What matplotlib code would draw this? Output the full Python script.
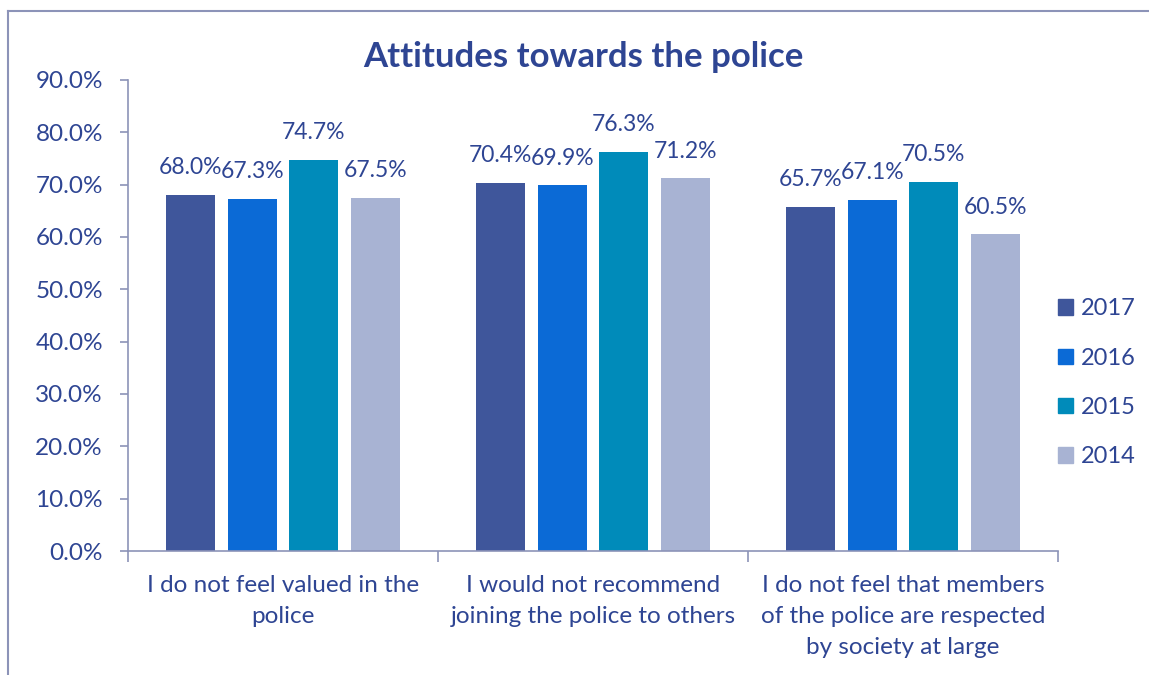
import matplotlib.pyplot as plt
import numpy as np
from matplotlib.lines import Line2D
from matplotlib.ticker import FuncFormatter

categories = ['I do not feel valued in the\npolice',
              'I would not recommend\njoining the police to others',
              'I do not feel that members\nof the police are respected\nby society at large']
years = ['2017', '2016', '2015', '2014']
values_2017 = [68.0, 70.4, 65.7]
values_2016 = [67.3, 69.9, 67.1]
values_2015 = [74.7, 76.3, 70.5]
values_2014 = [67.5, 71.2, 60.5]
y_ticks = [0, 10, 20, 30, 40, 50, 60, 70, 80, 90]

colors = ['#3F569B', '#0B6AD6', '#008BBA', '#A8B3D3']
text_color = '#2E4593'
axis_color = '#8C93B8'

plt.rcParams['font.family'] = ['Lato', 'DejaVu Sans']

fig = plt.figure(figsize=(11.49, 6.75), dpi=100)
ax = fig.add_axes([0.1114, 0.1837, 0.8094, 0.6978])

series = [values_2017, values_2016, values_2015, values_2014]
x = np.arange(len(categories))
width = 0.158
step = 0.199
for i, (vals, col, yr) in enumerate(zip(series, colors, years)):
    pos = x + (i - 1.5) * step
    ax.bar(pos, vals, width, color=col, label=yr, zorder=2)
    for px, v in zip(pos, vals):
        ax.annotate(f'{v:.1f}%', (px, v), xytext=(0, 12), textcoords='offset points',
                    ha='center', va='bottom', fontsize=16.5, color=text_color)

ax.set_xlim(-0.5, 2.5)
ax.set_ylim(0, 90)
ax.set_yticks(y_ticks)
ax.yaxis.set_major_formatter(FuncFormatter(lambda v, p: f'{v:.1f}%'))
ax.set_xticks(x)
ax.set_xticklabels(categories, linespacing=1.6)
ax.set_xticks([-0.5, 0.5, 1.5, 2.5], minor=True)
ax.tick_params(axis='x', which='major', length=0, pad=17, labelsize=17.5, labelcolor=text_color)
ax.tick_params(axis='x', which='minor', length=8, color=axis_color, width=1.2)
ax.tick_params(axis='y', length=6, color=axis_color, width=1.2, pad=12,
               labelsize=17.5, labelcolor=text_color)

for s in ['top', 'right']:
    ax.spines[s].set_visible(False)
for s in ['left', 'bottom']:
    ax.spines[s].set_color(axis_color)
    ax.spines[s].set_linewidth(1.2)

fig.text(0.5074, 0.915, 'Attitudes towards the police', ha='center', va='center',
         fontsize=25, fontweight='bold', color=text_color)

handles = [plt.Rectangle((0, 0), 1, 1, color=c) for c in colors]
fig.legend(handles, years, loc='upper left', bbox_to_anchor=(0.921, 0.558),
           frameon=False, fontsize=17, labelcolor=text_color, handlelength=0.62,
           handleheight=0.62, handletextpad=0.35, labelspacing=1.2, borderpad=0,
           borderaxespad=0)

# outer chart border
fig.add_artist(Line2D([0.007, 1.0], [0.984, 0.984], color=axis_color, lw=1.5,
                      transform=fig.transFigure))
fig.add_artist(Line2D([0.007, 0.007], [0.0, 0.984], color=axis_color, lw=1.5,
                      transform=fig.transFigure))

fig.savefig('out.png', dpi=100)
